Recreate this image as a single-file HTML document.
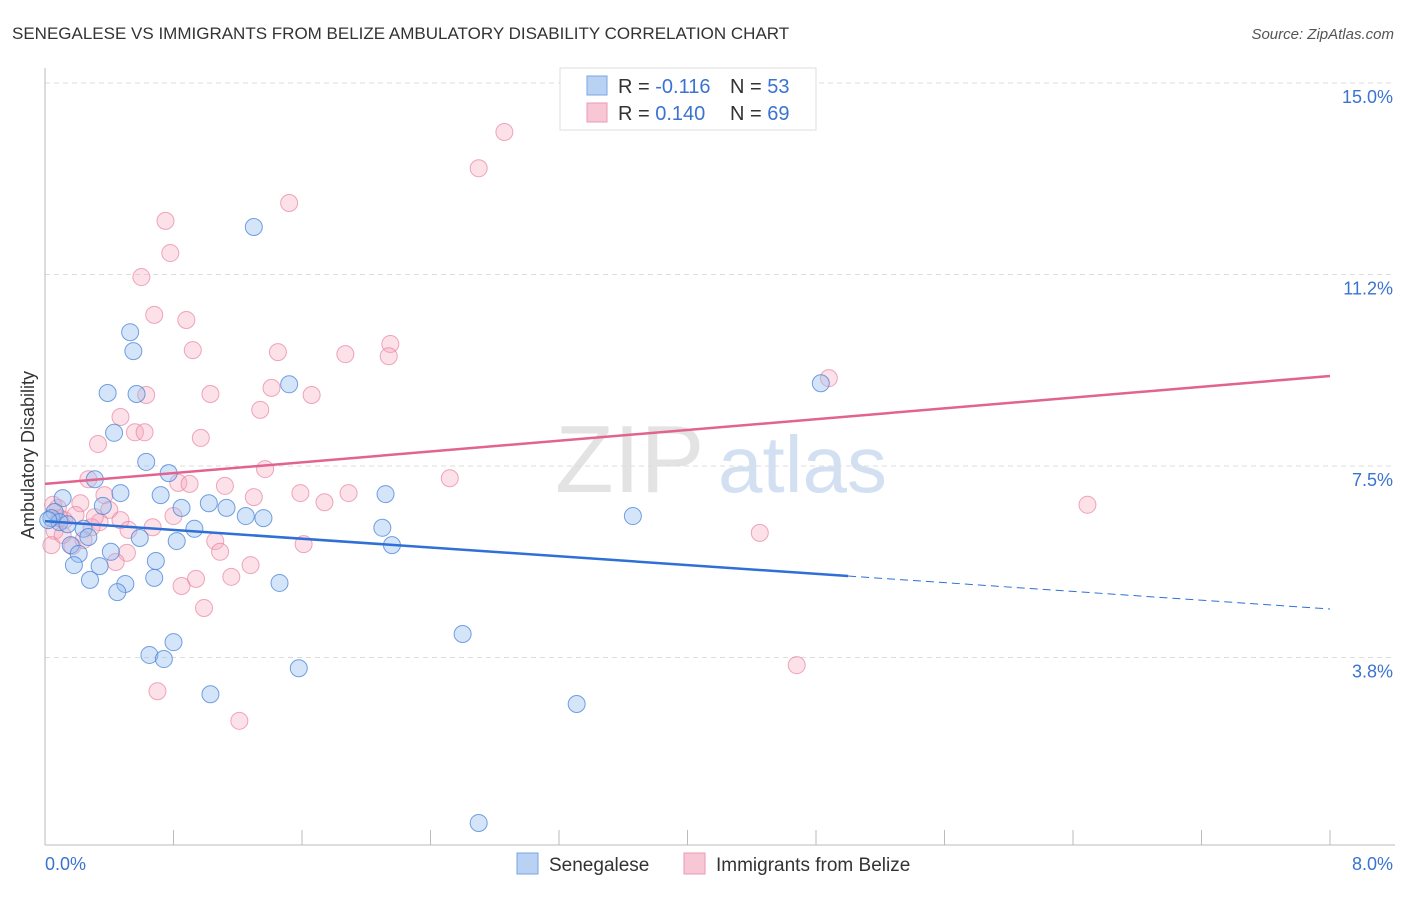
<!DOCTYPE html>
<html><head><meta charset="utf-8"><style>
body{margin:0;background:#fff;font-family:"Liberation Sans",sans-serif}
svg text{font-family:"Liberation Sans",sans-serif}
</style></head><body>
<svg id="chart" width="1406" height="892" xmlns="http://www.w3.org/2000/svg">
<text x="12" y="39" font-size="17" fill="#333">SENEGALESE VS IMMIGRANTS FROM BELIZE AMBULATORY DISABILITY CORRELATION CHART</text>
<text x="1394" y="39" font-size="15" fill="#555" font-style="italic" text-anchor="end">Source: ZipAtlas.com</text>
<g><text x="555" y="492" font-size="96" fill="#ddd" font-family="Liberation Serif" opacity="0.8">ZIP</text><text x="718" y="492" font-size="80" fill="#c9d9ef" opacity="0.8">atlas</text></g>
<g id="grid"></g>
<g id="axes"></g>
<g id="pts"></g>
<g id="trend"></g>
<text transform="translate(34,455) rotate(-90)" font-size="18" fill="#333" text-anchor="middle">Ambulatory Disability</text>
<g>
<rect x="560" y="68" width="256" height="62" fill="#fff" stroke="#ddd"/>
<rect x="587" y="76" width="20" height="19" fill="#b9d2f3" stroke="#7aa5e0"/>
<rect x="587" y="103" width="20" height="19" fill="#f8c7d6" stroke="#eb98b2"/>
<text x="618" y="93" font-size="20" fill="#333">R = <tspan fill="#3a73d0">-0.116</tspan></text>
<text x="730" y="93" font-size="20" fill="#333">N = <tspan fill="#3a73d0">53</tspan></text>
<text x="618" y="120" font-size="20" fill="#333">R = <tspan fill="#3a73d0"> 0.140</tspan></text>
<text x="730" y="120" font-size="20" fill="#333">N = <tspan fill="#3a73d0">69</tspan></text>
</g>
<g>
<rect x="517" y="853" width="21" height="21" fill="#b9d2f3" stroke="#7aa5e0"/>
<text x="549" y="871" font-size="19" fill="#333">Senegalese</text>
<rect x="684" y="853" width="21" height="21" fill="#f8c7d6" stroke="#eb98b2"/>
<text x="716" y="871" font-size="19" fill="#333">Immigrants from Belize</text>
</g>
</svg>
<script>
const xMin=0,xMax=8,yMin=0,yMax=15;
const yTicks=[3.75,7.5,11.25,15];
const yTickLabels=["3.8%","7.5%","11.2%","15.0%"];
const xTickLabels=["0.0%","8.0%"];
const senX=[1.30,0.53,0.55,0.39,0.57,1.52,0.43,0.63,0.77,0.31,0.47,0.72,1.02,0.85,1.13,0.36,0.11,2.12,1.25,1.36,3.66,0.06,0.04,0.09,0.14,0.24,0.93,2.10,0.27,0.59,0.82,2.16,0.16,0.21,0.41,0.69,0.18,0.34,0.68,0.50,0.28,1.46,0.45,2.60,0.80,0.65,0.74,1.58,1.03,3.31,2.70,4.83,0.02];
const senY=[12.18,10.12,9.75,8.93,8.91,9.10,8.15,7.58,7.36,7.24,6.97,6.93,6.77,6.68,6.68,6.72,6.87,6.95,6.52,6.48,6.52,6.60,6.48,6.40,6.36,6.27,6.27,6.29,6.11,6.09,6.03,5.95,5.95,5.78,5.82,5.64,5.56,5.54,5.31,5.19,5.27,5.21,5.03,4.21,4.05,3.80,3.72,3.54,3.03,2.84,0.51,9.12,6.44];
const belX=[2.86,2.70,1.52,0.75,0.78,0.60,0.68,0.88,2.15,0.92,1.45,1.87,2.14,4.88,0.63,1.03,1.41,1.66,0.47,1.34,0.56,0.97,0.33,1.37,2.52,0.27,0.83,0.90,0.37,1.12,1.59,1.89,1.74,1.30,0.22,0.40,0.08,6.49,0.80,0.47,0.12,0.34,0.67,0.29,0.52,0.06,4.45,1.06,1.61,0.17,0.04,0.51,1.09,0.44,1.28,1.16,0.94,0.85,0.99,4.68,0.70,1.21,0.09,0.05,0.19,0.11,0.24,0.62,0.31];
const belY=[14.04,13.33,12.65,12.30,11.67,11.20,10.46,10.36,9.89,9.77,9.73,9.69,9.65,9.22,8.89,8.91,9.03,8.89,8.46,8.60,8.16,8.05,7.93,7.44,7.26,7.24,7.17,7.15,6.93,7.11,6.97,6.97,6.79,6.89,6.77,6.64,6.68,6.74,6.52,6.44,6.44,6.40,6.30,6.30,6.25,6.23,6.19,6.03,5.97,5.93,5.95,5.80,5.82,5.62,5.56,5.33,5.29,5.15,4.72,3.60,3.09,2.51,6.48,6.74,6.54,6.15,6.05,8.16,6.50];
const senTrend=[6.42,-0.215]; // intercept, slope
const belTrend=[7.15,0.264];
const senSolidEnd=5.0;
const X=v=>45+(v-xMin)/(xMax-xMin)*1285;
const Y=v=>849-(v-yMin)/(yMax-yMin)*766;
const NS="http://www.w3.org/2000/svg";
function mk(t,a,p){const e=document.createElementNS(NS,t);for(const k in a)e.setAttribute(k,a[k]);p.appendChild(e);return e;}
const grid=document.getElementById('grid'),axes=document.getElementById('axes'),pts=document.getElementById('pts'),tr=document.getElementById('trend');
yTicks.forEach((t,i)=>{
 const l=mk('line',{x1:45,x2:1395,y1:Y(t),y2:Y(t),stroke:'#ddd','stroke-dasharray':'5,4'},grid);
 
 
 const tx=mk('text',{x:1393,y:Y(t)+20,'font-size':18,fill:'#3a73d0','text-anchor':'end'},axes);
 tx.textContent=yTickLabels[i];
 
 
});
let a=mk('line',{x1:45,x2:45,y1:68,y2:845,stroke:'#bbb'},axes);


a=mk('line',{x1:45,x2:1395,y1:845,y2:845,stroke:'#bbb'},axes);


for(let i=1;i<=10;i++){const v=xMin+i*(xMax-xMin)/10;
 const t=mk('line',{x1:X(v),x2:X(v),y1:830,y2:845,stroke:'#bbb'},axes);
 
 }
let xl=mk('text',{x:45,y:870,'font-size':18,fill:'#3a73d0'},axes);xl.textContent=xTickLabels[0];


xl=mk('text',{x:1393,y:870,'font-size':18,fill:'#3a73d0','text-anchor':'end'},axes);xl.textContent=xTickLabels[1];


belX.forEach((x,i)=>{const c=mk('circle',{cx:X(x),cy:Y(belY[i]),r:8.5,fill:'rgba(246,168,192,0.35)',stroke:'rgba(232,130,163,0.7)','stroke-width':1},pts);
 
 });
senX.forEach((x,i)=>{const c=mk('circle',{cx:X(x),cy:Y(senY[i]),r:8.5,fill:'rgba(150,190,240,0.4)',stroke:'rgba(70,130,215,0.75)','stroke-width':1},pts);
 
 });
const f=(p,x)=>p[0]+p[1]*x;
let l=mk('line',{x1:X(0),y1:Y(f(belTrend,0)),x2:X(8),y2:Y(f(belTrend,8)),stroke:'#e0648f','stroke-width':2.5},tr);


l=mk('line',{x1:X(0),y1:Y(f(senTrend,0)),x2:X(senSolidEnd),y2:Y(f(senTrend,senSolidEnd)),stroke:'#2f6fd6','stroke-width':2.5},tr);


l=mk('line',{x1:X(senSolidEnd),y1:Y(f(senTrend,senSolidEnd)),x2:X(8),y2:Y(f(senTrend,8)),stroke:'#2f6fd6','stroke-width':1,'stroke-dasharray':'8,5'},tr);


</script>
</body></html>
